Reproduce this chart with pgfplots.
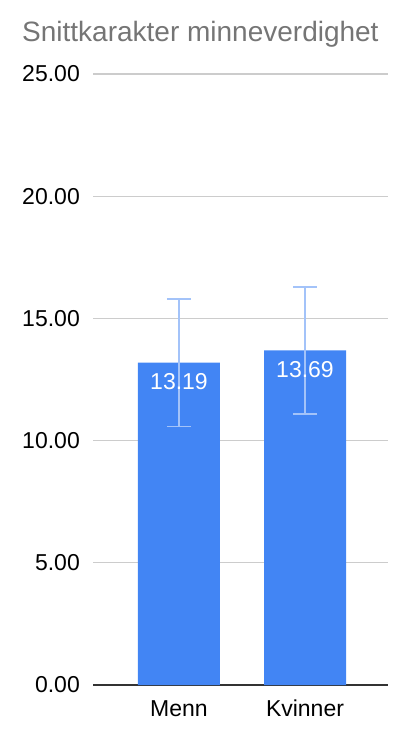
\documentclass[border=0pt]{standalone}
\usepackage{pgfplots}
\pgfplotsset{compat=1.18}
\usepackage{fontspec}
\setmainfont{Liberation Sans}
\definecolor{barblue}{HTML}{4285F4}
\definecolor{errblue}{HTML}{A3C3F9}
\definecolor{gridgray}{HTML}{CCCCCC}
\definecolor{titlegray}{HTML}{757575}
\definecolor{axisdark}{HTML}{333333}
\begin{document}
\begin{tikzpicture}
    \useasboundingbox (0,0) rectangle (410pt,742pt);
    \begin{axis}[
            at={(93pt,57pt)},
            anchor=south west,
            scale only axis,
            width=295pt,
            height=611pt,
            xmin=-0.6825, xmax=1.6587,
            ymin=0, ymax=25,
            xtick={0,1},
            xticklabels={Menn,Kvinner},
            ytick={0,5,...,25},
            major tick length=0pt,
            ymajorgrids,
            major grid style={color=gridgray, line width=1.3pt},
            axis x line=bottom,
            axis y line=left,
            axis line style={-},
            x axis line style={color=axisdark, line width=1.3pt},
            y axis line style={draw=none},
            tick label style={font=\fontsize{23}{27}\selectfont, color=black},
            yticklabel style={
                anchor=east, inner sep=0pt, xshift=-13pt,
                /pgf/number format/.cd, fixed, fixed zerofill, precision=2,
                assume math mode=true
            },
            xticklabel style={anchor=base, inner sep=0pt, yshift=-31.7pt},
            nodes near coords,
            nodes near coords style={
                anchor=north, inner sep=0pt, yshift=-11pt,
                font=\fontsize{23}{27}\selectfont, color=white,
                /pgf/number format/.cd, fixed, fixed zerofill, precision=2,
                assume math mode=true
            },
        ]
        \addplot[
            ybar,
            bar width=82pt,
            fill=barblue,
            draw=none,
            error bars/.cd,
                y dir=both,
                y explicit,
                error bar style={color=errblue, line width=1.3pt},
                error mark options={rotate=90, mark size=12pt, color=errblue, line width=1.3pt},
        ]
            coordinates{
(0,13.19) +- (0,2.6)
(1,13.69) +- (0,2.6)
            };
    \end{axis}
    \node[anchor=base west, inner sep=0pt, text=titlegray,
          font=\fontsize{28}{33}\selectfont] at (22pt,700.3pt) {Snittkarakter minneverdighet};
\end{tikzpicture}
\end{document}
